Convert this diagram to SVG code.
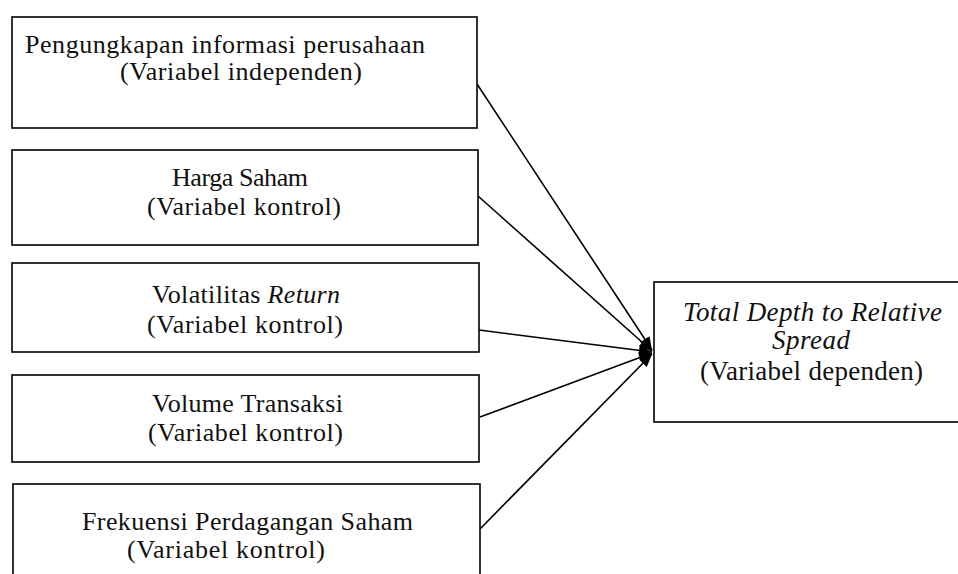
<svg xmlns="http://www.w3.org/2000/svg" width="958" height="574" viewBox="0 0 958 574">
  <defs>
    <style>
      .box { fill: #ffffff; stroke: #000000; stroke-width: 1.6; }
      .lbl { font-family: "Liberation Serif", "Times New Roman", serif; font-size: 26px; fill: #111111; }
      .rl { font-family: "Liberation Serif", "Times New Roman", serif; font-size: 27px; fill: #111111; }
      .it { font-style: italic; }
      .conn { stroke: #000000; stroke-width: 1.6; fill: none; marker-end: url(#head); }
    </style>
    <marker id="head" markerUnits="userSpaceOnUse" markerWidth="14" markerHeight="11" refX="13" refY="5.5" orient="auto">
      <path d="M0,0 L13,5.5 L0,11 Z" fill="#000000"/>
    </marker>
  </defs>
  <rect width="958" height="574" fill="#ffffff"/>

  <g id="connectors">
    <line class="conn" x1="477" y1="84" x2="652" y2="350"/>
    <line class="conn" x1="478" y1="196" x2="652" y2="351"/>
    <line class="conn" x1="479" y1="330" x2="652" y2="352"/>
    <line class="conn" x1="480" y1="417" x2="652" y2="353"/>
    <line class="conn" x1="480" y1="529" x2="652" y2="354"/>
  </g>

  <g id="node-pengungkapan">
    <rect class="box" x="12" y="17" width="465" height="111"/>
    <text class="lbl" x="25" y="53" textLength="400" lengthAdjust="spacing">Pengungkapan informasi perusahaan</text>
    <text class="lbl" x="120" y="80" textLength="242" lengthAdjust="spacing">(Variabel independen)</text>
  </g>

  <g id="node-harga">
    <rect class="box" x="12" y="150" width="466" height="95"/>
    <text class="lbl" x="172" y="186" textLength="136" lengthAdjust="spacing">Harga Saham</text>
    <text class="lbl" x="147" y="215" textLength="194" lengthAdjust="spacing">(Variabel kontrol)</text>
  </g>

  <g id="node-volatilitas">
    <rect class="box" x="12" y="263" width="467" height="89"/>
    <text class="lbl" x="152" y="303" textLength="188" lengthAdjust="spacing">Volatilitas <tspan class="it">Return</tspan></text>
    <text class="lbl" x="147" y="333" textLength="196" lengthAdjust="spacing">(Variabel kontrol)</text>
  </g>

  <g id="node-volume">
    <rect class="box" x="12" y="375" width="467" height="87"/>
    <text class="lbl" x="152" y="412" textLength="191" lengthAdjust="spacing">Volume Transaksi</text>
    <text class="lbl" x="148" y="441" textLength="195" lengthAdjust="spacing">(Variabel kontrol)</text>
  </g>

  <g id="node-frekuensi">
    <rect class="box" x="13" y="484" width="467" height="100"/>
    <text class="lbl" x="82" y="530" textLength="331" lengthAdjust="spacing">Frekuensi Perdagangan Saham</text>
    <text class="lbl" x="127" y="558" textLength="198" lengthAdjust="spacing">(Variabel kontrol)</text>
  </g>

  <g id="node-total-depth">
    <rect class="box" x="654" y="282" width="310" height="140"/>
    <text class="rl it" x="683" y="321" textLength="259" lengthAdjust="spacing">Total Depth to Relative</text>
    <text class="rl it" x="772" y="349" textLength="78" lengthAdjust="spacing">Spread</text>
    <text class="rl" x="700" y="380" textLength="223" lengthAdjust="spacing">(Variabel dependen)</text>
  </g>
</svg>
